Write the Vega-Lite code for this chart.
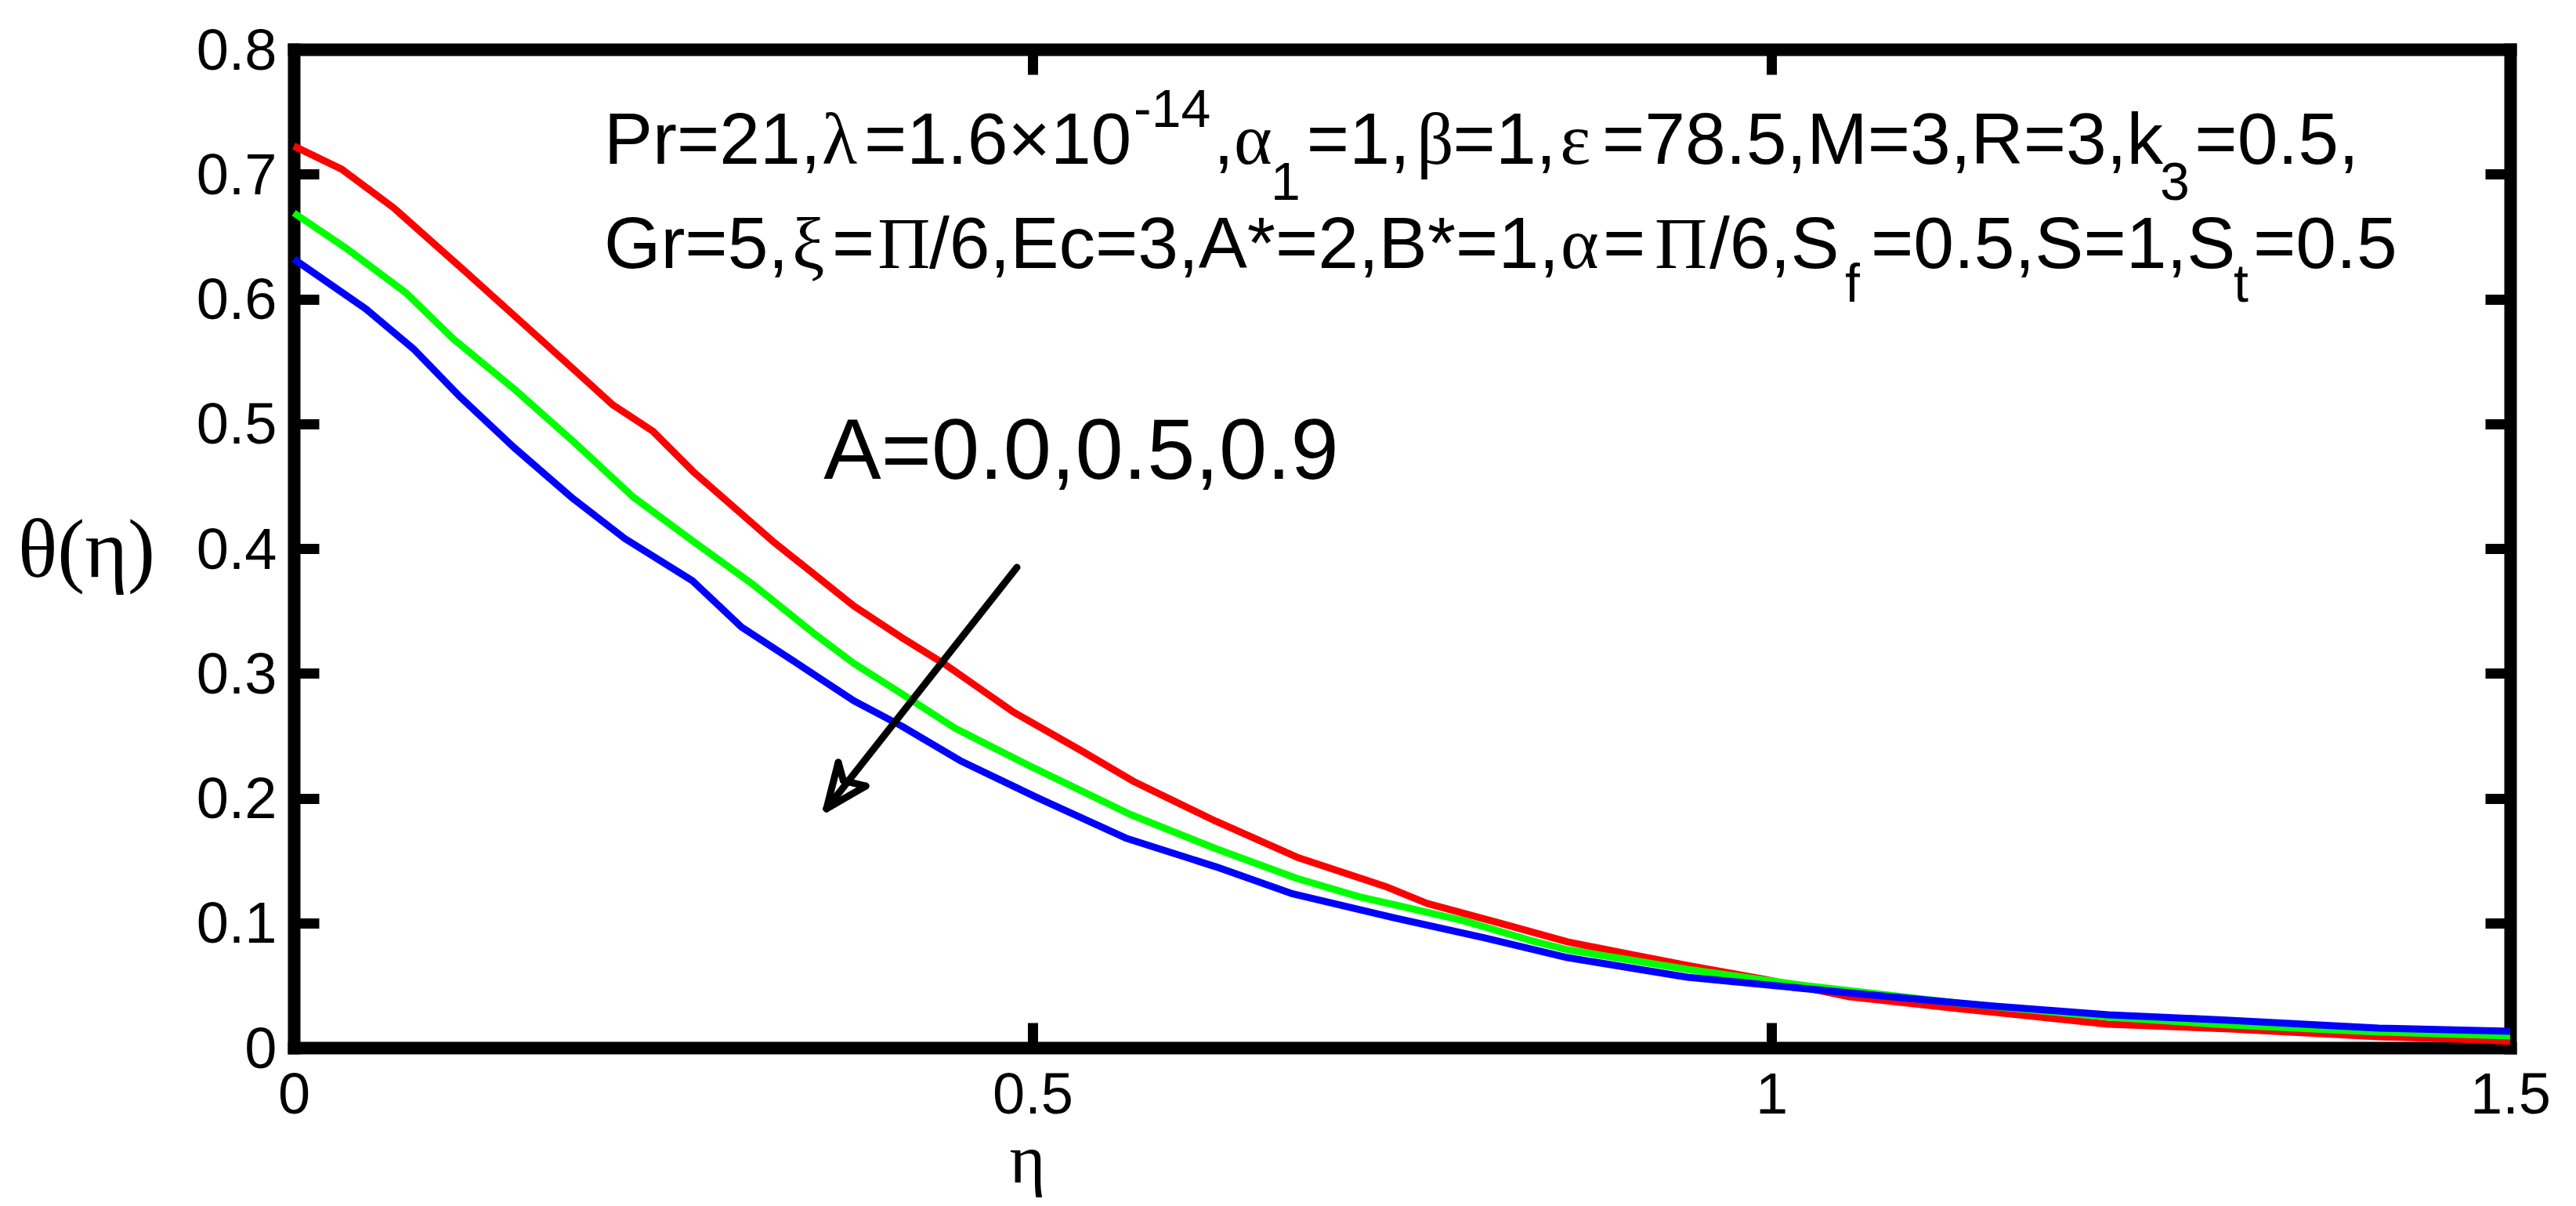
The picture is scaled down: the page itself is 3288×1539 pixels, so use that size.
{
  "$schema": "https://vega.github.io/schema/vega-lite/v6.json",
  "width": 2829,
  "height": 1274,
  "autosize": "none",
  "padding": {"left": 375, "top": 63, "right": 84, "bottom": 202},
  "background": "white",
  "config": {
    "view": {"stroke": null},
    "font": "Liberation Sans",
    "axis": {
      "grid": false,
      "domainColor": "black",
      "domainWidth": 16,
      "domainCap": "square",
      "tickColor": "black",
      "tickWidth": 13,
      "tickSize": -32,
      "labelFont": "Liberation Sans",
      "labelFontSize": 74,
      "labelColor": "black",
      "labelFlush": false,
      "labelOverlap": false,
      "labelBound": false,
      "titleColor": "black"
    }
  },
  "datasets": {
    "curves": [
      {"eta": 0, "theta": 0.7225, "A": "0.0"},
      {"eta": 0.0324, "theta": 0.704, "A": "0.0"},
      {"eta": 0.0676, "theta": 0.673, "A": "0.0"},
      {"eta": 0.116, "theta": 0.622, "A": "0.0"},
      {"eta": 0.162, "theta": 0.573, "A": "0.0"},
      {"eta": 0.216, "theta": 0.515, "A": "0.0"},
      {"eta": 0.243, "theta": 0.494, "A": "0.0"},
      {"eta": 0.27, "theta": 0.462, "A": "0.0"},
      {"eta": 0.324, "theta": 0.406, "A": "0.0"},
      {"eta": 0.379, "theta": 0.354, "A": "0.0"},
      {"eta": 0.411, "theta": 0.329, "A": "0.0"},
      {"eta": 0.441, "theta": 0.307, "A": "0.0"},
      {"eta": 0.487, "theta": 0.269, "A": "0.0"},
      {"eta": 0.533, "theta": 0.238, "A": "0.0"},
      {"eta": 0.569, "theta": 0.213, "A": "0.0"},
      {"eta": 0.624, "theta": 0.1815, "A": "0.0"},
      {"eta": 0.679, "theta": 0.1526, "A": "0.0"},
      {"eta": 0.74, "theta": 0.1287, "A": "0.0"},
      {"eta": 0.767, "theta": 0.1156, "A": "0.0"},
      {"eta": 0.816, "theta": 0.0999, "A": "0.0"},
      {"eta": 0.862, "theta": 0.0848, "A": "0.0"},
      {"eta": 0.902, "theta": 0.0754, "A": "0.0"},
      {"eta": 0.943, "theta": 0.066, "A": "0.0"},
      {"eta": 0.996, "theta": 0.0546, "A": "0.0"},
      {"eta": 1.053, "theta": 0.0408, "A": "0.0"},
      {"eta": 1.126, "theta": 0.0314, "A": "0.0"},
      {"eta": 1.228, "theta": 0.0188, "A": "0.0"},
      {"eta": 1.31, "theta": 0.0151, "A": "0.0"},
      {"eta": 1.411, "theta": 0.0088, "A": "0.0"},
      {"eta": 1.48, "theta": 0.0063, "A": "0.0"},
      {"eta": 1.5, "theta": 0.005, "A": "0.0"},
      {"eta": 0, "theta": 0.669, "A": "0.5"},
      {"eta": 0.035, "theta": 0.641, "A": "0.5"},
      {"eta": 0.0758, "theta": 0.605, "A": "0.5"},
      {"eta": 0.108, "theta": 0.568, "A": "0.5"},
      {"eta": 0.149, "theta": 0.528, "A": "0.5"},
      {"eta": 0.189, "theta": 0.486, "A": "0.5"},
      {"eta": 0.23, "theta": 0.441, "A": "0.5"},
      {"eta": 0.27, "theta": 0.406, "A": "0.5"},
      {"eta": 0.311, "theta": 0.371, "A": "0.5"},
      {"eta": 0.352, "theta": 0.332, "A": "0.5"},
      {"eta": 0.379, "theta": 0.308, "A": "0.5"},
      {"eta": 0.411, "theta": 0.284, "A": "0.5"},
      {"eta": 0.4475, "theta": 0.256, "A": "0.5"},
      {"eta": 0.496, "theta": 0.227, "A": "0.5"},
      {"eta": 0.566, "theta": 0.187, "A": "0.5"},
      {"eta": 0.624, "theta": 0.1595, "A": "0.5"},
      {"eta": 0.679, "theta": 0.1356, "A": "0.5"},
      {"eta": 0.721, "theta": 0.121, "A": "0.5"},
      {"eta": 0.791, "theta": 0.102, "A": "0.5"},
      {"eta": 0.837, "theta": 0.086, "A": "0.5"},
      {"eta": 0.862, "theta": 0.0785, "A": "0.5"},
      {"eta": 0.943, "theta": 0.0628, "A": "0.5"},
      {"eta": 1.024, "theta": 0.0496, "A": "0.5"},
      {"eta": 1.126, "theta": 0.0358, "A": "0.5"},
      {"eta": 1.228, "theta": 0.0245, "A": "0.5"},
      {"eta": 1.31, "theta": 0.0182, "A": "0.5"},
      {"eta": 1.411, "theta": 0.0126, "A": "0.5"},
      {"eta": 1.5, "theta": 0.0094, "A": "0.5"},
      {"eta": 0, "theta": 0.632, "A": "0.9"},
      {"eta": 0.0488, "theta": 0.592, "A": "0.9"},
      {"eta": 0.081, "theta": 0.56, "A": "0.9"},
      {"eta": 0.113, "theta": 0.521, "A": "0.9"},
      {"eta": 0.149, "theta": 0.481, "A": "0.9"},
      {"eta": 0.189, "theta": 0.44, "A": "0.9"},
      {"eta": 0.224, "theta": 0.408, "A": "0.9"},
      {"eta": 0.27, "theta": 0.374, "A": "0.9"},
      {"eta": 0.303, "theta": 0.337, "A": "0.9"},
      {"eta": 0.338, "theta": 0.31, "A": "0.9"},
      {"eta": 0.379, "theta": 0.278, "A": "0.9"},
      {"eta": 0.411, "theta": 0.258, "A": "0.9"},
      {"eta": 0.451, "theta": 0.23, "A": "0.9"},
      {"eta": 0.502, "theta": 0.201, "A": "0.9"},
      {"eta": 0.563, "theta": 0.168, "A": "0.9"},
      {"eta": 0.624, "theta": 0.145, "A": "0.9"},
      {"eta": 0.675, "theta": 0.1237, "A": "0.9"},
      {"eta": 0.745, "theta": 0.104, "A": "0.9"},
      {"eta": 0.806, "theta": 0.088, "A": "0.9"},
      {"eta": 0.862, "theta": 0.0722, "A": "0.9"},
      {"eta": 0.943, "theta": 0.0565, "A": "0.9"},
      {"eta": 1.058, "theta": 0.0433, "A": "0.9"},
      {"eta": 1.145, "theta": 0.0339, "A": "0.9"},
      {"eta": 1.228, "theta": 0.0264, "A": "0.9"},
      {"eta": 1.31, "theta": 0.022, "A": "0.9"},
      {"eta": 1.411, "theta": 0.0157, "A": "0.9"},
      {"eta": 1.5, "theta": 0.0132, "A": "0.9"}
    ],
    "arrow": [
      {"x": 0.4894, "y": 0.3849, "x2": 0.3605, "y2": 0.1915},
      {"x": 0.3605, "y": 0.1915, "x2": 0.3685, "y2": 0.2286},
      {"x": 0.3685, "y": 0.2286, "x2": 0.3719, "y2": 0.2141},
      {"x": 0.3719, "y": 0.2141, "x2": 0.3871, "y2": 0.2097},
      {"x": 0.3871, "y": 0.2097, "x2": 0.3605, "y2": 0.1915}
    ],
    "sansText": [
      {"x": 0.21, "y": 0.7083, "text": "Pr=21,"},
      {"x": 0.3860, "y": 0.7083, "text": "=1.6×10"},
      {"x": 0.6225, "y": 0.7083, "text": ","},
      {"x": 0.6855, "y": 0.7083, "text": "=1,"},
      {"x": 0.7845, "y": 0.7083, "text": "=1,"},
      {"x": 0.8855, "y": 0.7083, "text": "=78.5,M=3,R=3,k"},
      {"x": 1.2865, "y": 0.7083, "text": "=0.5,"},
      {"x": 0.21, "y": 0.6248, "text": "Gr=5,"},
      {"x": 0.3643, "y": 0.6248, "text": "="},
      {"x": 0.4300, "y": 0.6248, "text": "/6,Ec=3,A*=2,B*=1,"},
      {"x": 0.8860, "y": 0.6248, "text": "="},
      {"x": 0.9581, "y": 0.6248, "text": "/6,S"},
      {"x": 1.0673, "y": 0.6248, "text": "=0.5,S=1,S"},
      {"x": 1.3261, "y": 0.6248, "text": "=0.5"}
    ],
    "serifText": [
      {"x": 0.3574, "y": 0.7083, "text": "λ"},
      {"x": 0.6363, "y": 0.7083, "text": "α"},
      {"x": 0.7600, "y": 0.7083, "text": "β"},
      {"x": 0.8570, "y": 0.7083, "text": "ε"},
      {"x": 0.3372, "y": 0.6248, "text": "ξ"},
      {"x": 0.3951, "y": 0.6248, "text": "Π"},
      {"x": 0.8574, "y": 0.6248, "text": "α"},
      {"x": 0.9210, "y": 0.6248, "text": "Π"}
    ],
    "smallText": [
      {"x": 0.5684, "y": 0.7379, "text": "-14"},
      {"x": 0.6612, "y": 0.6795, "text": "1"},
      {"x": 1.2630, "y": 0.6795, "text": "3"},
      {"x": 1.0498, "y": 0.5978, "text": "f"},
      {"x": 1.3128, "y": 0.5978, "text": "t"}
    ],
    "labelA": [
      {"x": 0.3586, "y": 0.4559, "text": "A=0.0,0.5,0.9"}
    ]
  },
  "layer": [
    {
      "data": {"name": "curves"},
      "mark": {"type": "line", "strokeWidth": 9, "strokeJoin": "round"},
      "encoding": {
        "x": {
          "field": "eta", "type": "quantitative",
          "scale": {"domain": [0, 1.5], "nice": false, "zero": false},
          "axis": {
            "orient": "bottom",
            "values": [0, 0.5, 1, 1.5],
            "format": "~g",
            "labelPadding": 57,
            "title": "η",
            "titleFont": "Liberation Serif",
            "titleFontSize": 88,
            "titleFontWeight": "normal",
            "titleAngle": 0,
            "titleAlign": "center",
            "titleBaseline": "alphabetic",
            "titleX": 936,
            "titleY": 171
          }
        },
        "y": {
          "field": "theta", "type": "quantitative",
          "scale": {"domain": [0, 0.8], "nice": false, "zero": false},
          "axis": {
            "orient": "left",
            "values": [0, 0.1, 0.2, 0.3, 0.4, 0.5, 0.6, 0.7, 0.8],
            "format": "~g",
            "labelPadding": 54,
            "labelOffset": 3,
            "title": "θ(η)",
            "titleFont": "Liberation Serif",
            "titleFontSize": 105,
            "titleFontWeight": "normal",
            "titleAngle": 0,
            "titleAlign": "center",
            "titleBaseline": "middle",
            "titleX": -265,
            "titleY": 640
          }
        },
        "color": {
          "field": "A", "type": "nominal",
          "scale": {"domain": ["0.0", "0.5", "0.9"], "range": ["#ff0000", "#00ff00", "#0000ff"]},
          "legend": null
        }
      }
    },
    {
      "data": {"name": "arrow"},
      "mark": {"type": "rule", "color": "black", "strokeWidth": 9, "strokeCap": "round"},
      "encoding": {
        "x": {"field": "x", "type": "quantitative", "axis": {"orient": "top", "values": [0, 0.5, 1, 1.5], "labels": false, "title": null}},
        "y": {"field": "y", "type": "quantitative", "axis": {"orient": "right", "values": [0, 0.1, 0.2, 0.3, 0.4, 0.5, 0.6, 0.7, 0.8], "labels": false, "title": null}},
        "x2": {"field": "x2"},
        "y2": {"field": "y2"}
      }
    },
    {
      "data": {"name": "sansText"},
      "mark": {"type": "text", "align": "left", "baseline": "alphabetic", "font": "Liberation Sans", "fontSize": 93, "color": "black"},
      "encoding": {
        "x": {"field": "x", "type": "quantitative", "axis": null},
        "y": {"field": "y", "type": "quantitative", "axis": null},
        "text": {"field": "text"}
      }
    },
    {
      "data": {"name": "serifText"},
      "mark": {"type": "text", "align": "left", "baseline": "alphabetic", "font": "Liberation Serif", "fontSize": 93, "color": "black"},
      "encoding": {
        "x": {"field": "x", "type": "quantitative", "axis": null},
        "y": {"field": "y", "type": "quantitative", "axis": null},
        "text": {"field": "text"}
      }
    },
    {
      "data": {"name": "smallText"},
      "mark": {"type": "text", "align": "left", "baseline": "alphabetic", "font": "Liberation Sans", "fontSize": 68, "color": "black"},
      "encoding": {
        "x": {"field": "x", "type": "quantitative", "axis": null},
        "y": {"field": "y", "type": "quantitative", "axis": null},
        "text": {"field": "text"}
      }
    },
    {
      "data": {"name": "labelA"},
      "mark": {"type": "text", "align": "left", "baseline": "alphabetic", "font": "Liberation Sans", "fontSize": 110, "color": "black"},
      "encoding": {
        "x": {"field": "x", "type": "quantitative", "axis": null},
        "y": {"field": "y", "type": "quantitative", "axis": null},
        "text": {"field": "text"}
      }
    }
  ]
}
